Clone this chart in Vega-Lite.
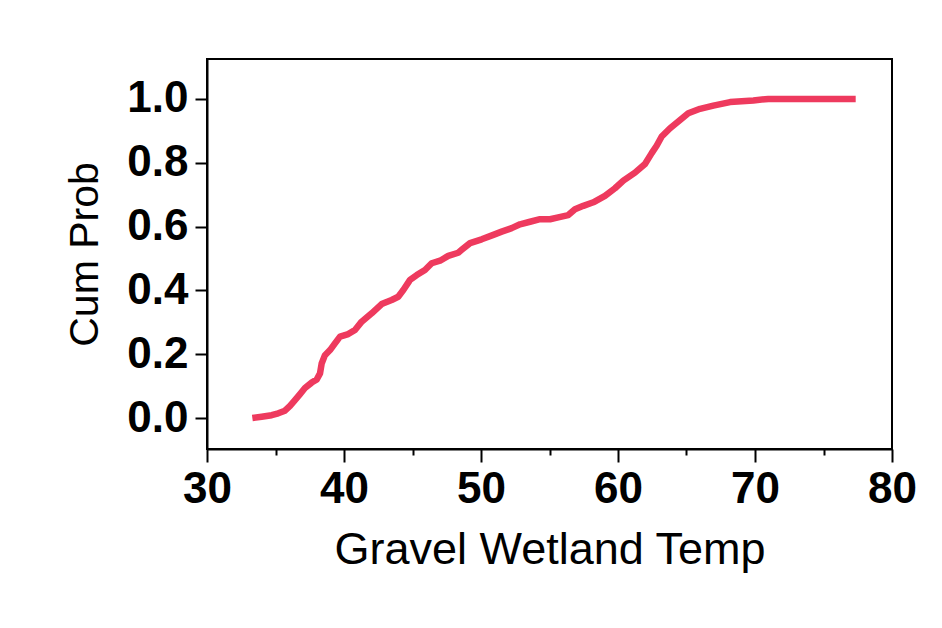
{
  "$schema": "https://vega.github.io/schema/vega-lite/v6.json",
  "autosize": "none",
  "width": 685,
  "height": 390,
  "padding": {"left": 207, "top": 59, "right": 50, "bottom": 179},
  "background": "white",
  "data": {"values": [
    {"temp": 33.31, "cumprob": 0.0},
    {"temp": 33.99, "cumprob": 0.004},
    {"temp": 34.72, "cumprob": 0.009},
    {"temp": 35.20, "cumprob": 0.015},
    {"temp": 35.69, "cumprob": 0.023},
    {"temp": 36.06, "cumprob": 0.038},
    {"temp": 36.42, "cumprob": 0.056},
    {"temp": 36.79, "cumprob": 0.075},
    {"temp": 37.15, "cumprob": 0.094},
    {"temp": 37.64, "cumprob": 0.111},
    {"temp": 38.01, "cumprob": 0.121},
    {"temp": 38.25, "cumprob": 0.140},
    {"temp": 38.37, "cumprob": 0.171},
    {"temp": 38.61, "cumprob": 0.197},
    {"temp": 38.98, "cumprob": 0.213},
    {"temp": 39.34, "cumprob": 0.234},
    {"temp": 39.71, "cumprob": 0.255},
    {"temp": 40.31, "cumprob": 0.263},
    {"temp": 40.80, "cumprob": 0.276},
    {"temp": 41.29, "cumprob": 0.302},
    {"temp": 42.02, "cumprob": 0.328},
    {"temp": 42.75, "cumprob": 0.357},
    {"temp": 43.48, "cumprob": 0.370},
    {"temp": 43.96, "cumprob": 0.380},
    {"temp": 44.33, "cumprob": 0.401},
    {"temp": 44.82, "cumprob": 0.433},
    {"temp": 45.31, "cumprob": 0.448},
    {"temp": 45.91, "cumprob": 0.464},
    {"temp": 46.40, "cumprob": 0.485},
    {"temp": 47.01, "cumprob": 0.493},
    {"temp": 47.61, "cumprob": 0.508},
    {"temp": 48.34, "cumprob": 0.518},
    {"temp": 48.59, "cumprob": 0.527},
    {"temp": 49.20, "cumprob": 0.548},
    {"temp": 50.05, "cumprob": 0.560},
    {"temp": 50.90, "cumprob": 0.574},
    {"temp": 51.51, "cumprob": 0.584},
    {"temp": 52.24, "cumprob": 0.595},
    {"temp": 52.85, "cumprob": 0.607},
    {"temp": 53.58, "cumprob": 0.615},
    {"temp": 54.31, "cumprob": 0.623},
    {"temp": 55.04, "cumprob": 0.623},
    {"temp": 55.64, "cumprob": 0.629},
    {"temp": 56.37, "cumprob": 0.636},
    {"temp": 56.86, "cumprob": 0.654},
    {"temp": 57.47, "cumprob": 0.665},
    {"temp": 58.20, "cumprob": 0.676},
    {"temp": 59.05, "cumprob": 0.696},
    {"temp": 59.78, "cumprob": 0.720},
    {"temp": 60.39, "cumprob": 0.744},
    {"temp": 61.24, "cumprob": 0.769},
    {"temp": 61.97, "cumprob": 0.796},
    {"temp": 62.46, "cumprob": 0.830},
    {"temp": 62.82, "cumprob": 0.853},
    {"temp": 63.19, "cumprob": 0.882},
    {"temp": 63.80, "cumprob": 0.908},
    {"temp": 64.40, "cumprob": 0.929},
    {"temp": 65.13, "cumprob": 0.955},
    {"temp": 65.99, "cumprob": 0.969},
    {"temp": 66.96, "cumprob": 0.979},
    {"temp": 68.18, "cumprob": 0.990},
    {"temp": 69.88, "cumprob": 0.995},
    {"temp": 70.97, "cumprob": 1.0},
    {"temp": 77.35, "cumprob": 1.0}
  ]},
  "mark": {"type": "line", "color": "#EE3A5E", "strokeWidth": 6.5, "strokeCap": "butt", "strokeJoin": "round"},
  "encoding": {
    "x": {
      "field": "temp", "type": "quantitative",
      "scale": {"domain": [30, 80], "nice": false, "zero": false},
      "axis": {
        "title": "Gravel Wetland Temp",
        "titleFontSize": 45,
        "values": [30, 35, 40, 45, 50, 55, 60, 65, 70, 75, 80],
        "labelExpr": "datum.value % 10 === 0 ? datum.label : ''",
        "tickSize": {"condition": {"test": "datum.value % 10 === 0", "value": 13}, "value": 6},
        "grid": false,
        "labelFlush": false,
        "labelOverlap": false,
        "labelPadding": 5,
        "titlePadding": 16
      }
    },
    "y": {
      "field": "cumprob", "type": "quantitative",
      "scale": {"domain": [-0.097, 1.125], "nice": false, "zero": false},
      "axis": {
        "title": "Cum Prob",
        "titleFontSize": 41,
        "values": [0, 0.2, 0.4, 0.6, 0.8, 1.0],
        "format": ".1f",
        "tickSize": 12,
        "grid": false,
        "labelPadding": 7,
        "titlePadding": 20
      }
    }
  },
  "config": {
    "view": {"stroke": "black", "strokeWidth": 2, "fill": "white"},
    "axis": {
      "domainColor": "black",
      "domainWidth": 2,
      "tickColor": "black",
      "tickWidth": 2,
      "labelFont": "Liberation Sans",
      "labelFontSize": 44,
      "labelFontWeight": "bold",
      "labelColor": "black",
      "titleFont": "Liberation Sans",
      "titleFontWeight": "normal",
      "titleColor": "black"
    }
  }
}
